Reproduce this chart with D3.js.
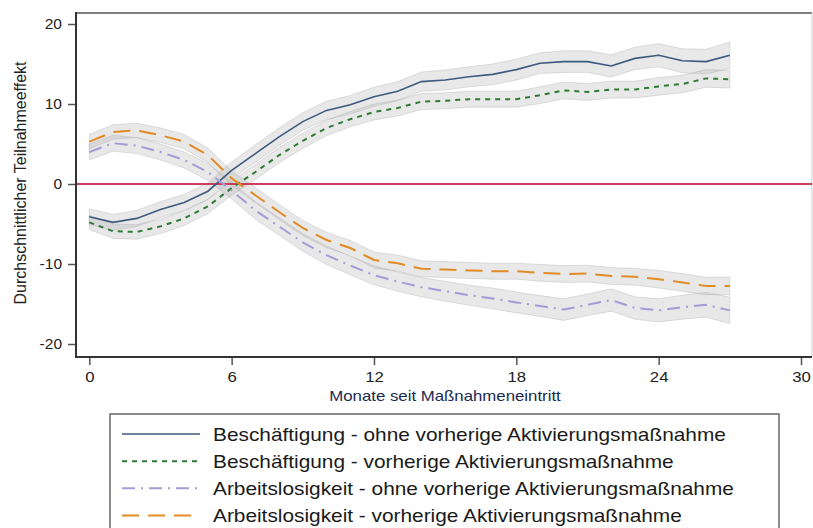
<!DOCTYPE html>
<html>
<head>
<meta charset="utf-8">
<script src="https://cdn.jsdelivr.net/npm/d3@7"></script>
<style>
  html, body { margin: 0; padding: 0; background: #fff; }
  svg { display: block; font-family: "Liberation Sans", Arial, sans-serif; }
</style>
</head>
<body>
<svg id="chart" width="813" height="528"></svg>
<script>
// ---- data ----
const months = d3.range(0, 28);
const xTicks = [0, 6, 12, 18, 24, 30];
const yTicks = [-20, -10, 0, 10, 20];

const beschOhne = [-4.1, -4.8, -4.3, -3.2, -2.3, -0.9, 1.7, 3.8, 5.9, 7.8, 9.2, 9.9, 10.9, 11.6, 12.8, 13.0, 13.4, 13.7, 14.3, 15.1, 15.3, 15.3, 14.75, 15.7, 16.1, 15.4, 15.3, 16.1];
const beschVor  = [-4.8, -5.9, -6.0, -5.3, -4.3, -2.8, -0.5, 1.5, 3.6, 5.4, 7.0, 8.1, 9.0, 9.5, 10.3, 10.4, 10.6, 10.6, 10.6, 11.1, 11.7, 11.5, 11.8, 11.8, 12.2, 12.5, 13.2, 13.1];
const arbOhne   = [4.0, 5.1, 4.8, 4.0, 3.0, 1.5, -0.8, -3.3, -5.3, -7.3, -8.9, -10.2, -11.4, -12.2, -12.9, -13.4, -13.9, -14.3, -14.8, -15.25, -15.7, -15.1, -14.5, -15.5, -15.8, -15.4, -15.1, -15.8];
const arbVor    = [5.3, 6.5, 6.7, 6.1, 5.3, 3.6, 0.7, -1.4, -3.5, -5.5, -7.0, -8.0, -9.5, -9.9, -10.6, -10.7, -10.8, -10.9, -10.9, -11.1, -11.25, -11.2, -11.5, -11.6, -11.9, -12.3, -12.75, -12.75];

// half-widths of the confidence bands
const ciOhne = [1.0, 1.0, 1.0, 1.0, 1.0, 1.05, 1.05, 1.1, 1.1, 1.1, 1.15, 1.15, 1.2, 1.2, 1.2, 1.25, 1.25, 1.3, 1.3, 1.3, 1.35, 1.35, 1.4, 1.4, 1.45, 1.5, 1.55, 1.65];
const ciVor  = [0.9, 0.9, 0.9, 0.9, 0.9, 0.9, 0.9, 0.95, 0.95, 0.95, 0.95, 0.95, 1.0, 1.0, 1.0, 1.0, 1.0, 1.0, 1.0, 1.05, 1.05, 1.05, 1.05, 1.05, 1.1, 1.1, 1.1, 1.1];

const seriesNames = [
  "Beschäftigung - ohne vorherige Aktivierungsmaßnahme",
  "Beschäftigung - vorherige Aktivierungsmaßnahme",
  "Arbeitslosigkeit - ohne vorherige Aktivierungsmaßnahme",
  "Arbeitslosigkeit - vorherige Aktivierungsmaßnahme"
];
const xTitle = "Monate seit Maßnahmeneintritt";
const yTitle = "Durchschnittlicher Teilnahmeeffekt";

// ---- styling ----
const seriesStyle = [
  { values: beschOhne, ci: ciOhne, color: "#3d5b7e", width: 1.6, dash: null },
  { values: beschVor,  ci: ciVor,  color: "#2f7a35", width: 2,   dash: "5,5" },
  { values: arbOhne,   ci: ciOhne, color: "#a79ad8", width: 2,   dash: "13,6,2,6" },
  { values: arbVor,    ci: ciVor,  color: "#e28b25", width: 2,   dash: "17,9" }
];

const svg = d3.select("#chart");
const plotLeft = 76, plotRight = 812, plotTop = 13, plotBottom = 357;

const x = d3.scaleLinear().domain([0, 30]).range([89.3, 801]);
const y = d3.scaleLinear().domain([-20, 20]).range([344, 24]);

function stretchText(sel, k) {
  sel.each(function () {
    const len = this.getComputedTextLength();
    d3.select(this).attr("textLength", len * k).attr("lengthAdjust", "spacingAndGlyphs");
  });
}

// frame
svg.append("line").attr("x1", plotLeft).attr("x2", plotRight).attr("y1", plotTop).attr("y2", plotTop)
  .attr("stroke", "#555").attr("stroke-width", 1.5);
svg.append("line").attr("x1", plotRight).attr("x2", plotRight).attr("y1", plotTop).attr("y2", plotBottom)
  .attr("stroke", "#ccc").attr("stroke-width", 1);

// bands
const area = d3.area()
  .x((d, i) => x(months[i]))
  .y0(d => y(d.lo))
  .y1(d => y(d.hi));
seriesStyle.forEach(s => {
  const pts = s.values.map((v, i) => ({ lo: v - s.ci[i], hi: v + s.ci[i] }));
  svg.append("path").datum(pts).attr("d", area)
    .attr("fill", "#b4b4b4").attr("fill-opacity", 0.3)
    .attr("stroke", "#a0a0a0").attr("stroke-opacity", 0.3).attr("stroke-width", 1);
});

// zero line
svg.append("line").attr("x1", plotLeft).attr("x2", plotRight).attr("y1", y(0)).attr("y2", y(0))
  .attr("stroke", "#cc3d5f").attr("stroke-width", 2);

// lines
const line = d3.line().x((d, i) => x(months[i])).y(d => y(d));
seriesStyle.forEach(s => {
  svg.append("path").datum(s.values).attr("d", line)
    .attr("fill", "none").attr("stroke", s.color).attr("stroke-width", s.width)
    .attr("stroke-dasharray", s.dash);
});

// axes
const fmt = d => String(d);
const xAxis = svg.append("g").attr("transform", `translate(0,${plotBottom})`)
  .call(d3.axisBottom(x).tickValues(xTicks).tickSize(8).tickPadding(6).tickFormat(fmt));
const yAxis = svg.append("g").attr("transform", `translate(${plotLeft},0)`)
  .call(d3.axisLeft(y).tickValues(yTicks).tickSize(8).tickPadding(6).tickFormat(fmt));
[xAxis, yAxis].forEach(g => {
  g.select(".domain").remove();
  g.selectAll(".tick line").attr("stroke", "#555").attr("stroke-width", 1.5);
  g.selectAll(".tick text").attr("fill", "#222").style("font-size", "15.5px")
    .style("font-family", "'Liberation Sans', Arial, sans-serif");
});
xAxis.selectAll(".tick text").call(stretchText, 1.08);
svg.append("line").attr("x1", plotLeft).attr("x2", plotLeft).attr("y1", plotTop - 1).attr("y2", plotBottom + 1)
  .attr("stroke", "#333").attr("stroke-width", 2);
svg.append("line").attr("x1", plotLeft - 1).attr("x2", plotRight).attr("y1", plotBottom).attr("y2", plotBottom)
  .attr("stroke", "#333").attr("stroke-width", 2);

// axis titles
svg.append("text").attr("x", 445).attr("y", 401).attr("text-anchor", "middle")
  .style("font-size", "15px").attr("fill", "#1a2a50").text(xTitle).call(stretchText, 1.12);
svg.append("text").attr("transform", "translate(26,183) rotate(-90)").attr("text-anchor", "middle")
  .style("font-size", "16px").attr("fill", "#222").text(yTitle);

// legend
svg.append("rect").attr("x", 110).attr("y", 414).attr("width", 669).attr("height", 140)
  .attr("fill", "#fff").attr("stroke", "#666").attr("stroke-width", 1.5);
const rowY = d3.scaleLinear().domain([0, 3]).range([434, 515.5]);
seriesStyle.forEach((s, i) => {
  const yy = rowY(i);
  svg.append("line").attr("x1", 122).attr("x2", 200).attr("y1", yy).attr("y2", yy)
    .attr("stroke", s.color).attr("stroke-width", s.width).attr("stroke-dasharray", s.dash);
  svg.append("text").attr("x", 213).attr("y", yy + 6.5).style("font-size", "18.6px")
    .attr("fill", "#1a1a1a").text(seriesNames[i]).call(stretchText, 1.12);
});
</script>
</body>
</html>
